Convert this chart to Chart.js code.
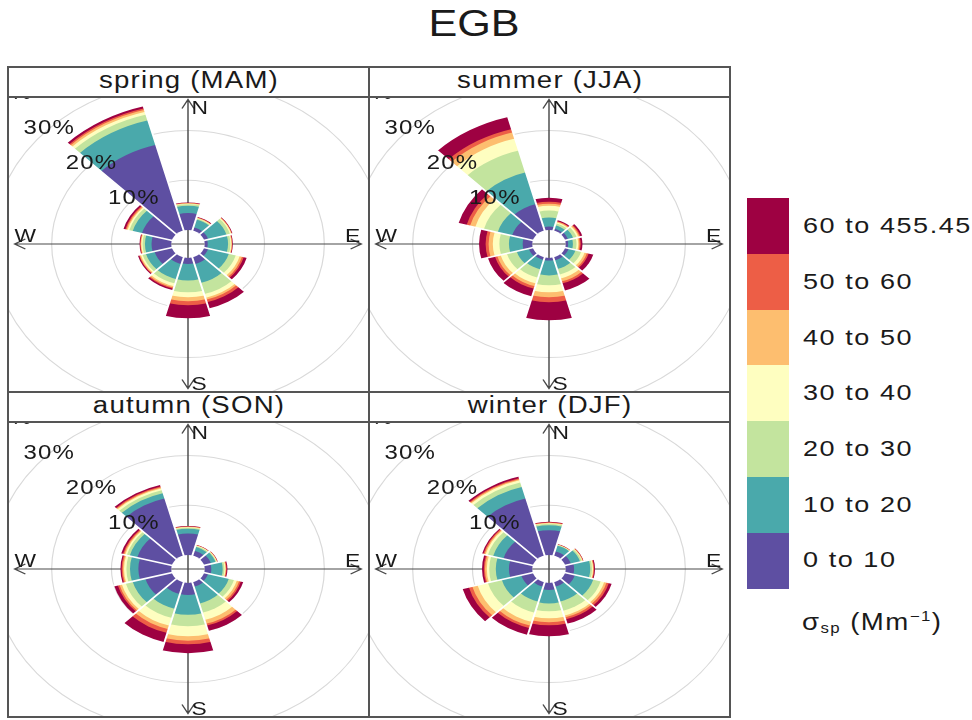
<!DOCTYPE html>
<html>
<head>
<meta charset="utf-8">
<title>EGB wind roses</title>
<script src="https://cdn.jsdelivr.net/npm/chart.js@4.4.1/dist/chart.umd.min.js"></script>
<style>
  html, body { margin: 0; padding: 0; background: #fff; }
  body { position: relative; width: 972px; height: 720px; overflow: hidden;
         font-family: "Liberation Sans", Arial, Helvetica, sans-serif; color: #1a1a1a; }
  canvas { position: absolute; }
  .txt { position: absolute; white-space: nowrap; transform: scaleX(1.2); }
  .mid { width: 600px; text-align: center; transform-origin: 50% 50%; }
  .lft { transform-origin: 0 50%; }
  .rule { position: absolute; background: #555; z-index: 3; }
  .swatch { position: absolute; left: 747px; width: 42px; }
</style>
</head>
<body>
<div class="txt mid" style="left:174px; top:5.5px; font-size:36px; line-height:36px;">EGB</div>
<script>
"use strict";

const directions = [0, 30, 60, 90, 120, 150, 180, 210, 240, 270, 300, 330];
const bandLabels = ['0 to 10', '10 to 20', '20 to 30', '30 to 40', '40 to 50', '50 to 60', '60 to 455.45'];
const bandColors = ['#5e4fa2', '#4aa9ab', '#c3e49e', '#fefec0', '#fdbe6f', '#ed5e46', '#9e0142'];
const ringValues = [10, 20, 30, 40, 50];
const seasonTitles = ['spring (MAM)', 'summer (JJA)', 'autumn (SON)', 'winter (DJF)'];

// frequency (%) per direction (rows, N clockwise) split by sigma_sp band (columns)
const springFreq = [
    [3.4, 1.5, 0.3, 0.1, 0.1, 0.05, 0.1],
    [0.7, 1.6, 0.2, 0.1, 0.1, 0.05, 0.1],
    [0.7, 3.2, 0.6, 0.2, 0.1, 0.05, 0.1],
    [0.5, 3.4, 0.4, 0.15, 0.1, 0.05, 0.1],
    [0.7, 3.6, 1.2, 0.7, 0.4, 0.3, 0.5],
    [1.4, 3.9, 2.3, 0.8, 0.4, 0.5, 1.3],
    [1.2, 3.3, 2.4, 1.0, 0.8, 0.8, 2.6],
    [1.4, 3.1, 0.9, 0.6, 0.3, 0.2, 0.3],
    [3.0, 1.5, 0.6, 0.3, 0.2, 0.1, 0.2],
    [3.3, 1.1, 0.4, 0.2, 0.1, 0.1, 0.1],
    [5.2, 1.6, 0.6, 0.3, 0.2, 0.2, 0.3],
    [17.8, 5.1, 1.2, 0.6, 0.4, 0.3, 0.4]
];
const summerFreq = [
    [0.7, 1.8, 1.4, 1.0, 0.4, 0.4, 0.8],
    [0.4, 0.7, 0.4, 0.2, 0.2, 0.1, 0.2],
    [0.5, 0.9, 0.6, 0.3, 0.2, 0.2, 0.3],
    [0.4, 0.8, 0.6, 0.3, 0.2, 0.2, 0.3],
    [0.6, 1.2, 1.0, 0.6, 0.4, 0.3, 0.8],
    [0.6, 1.8, 1.2, 0.8, 0.6, 0.4, 1.5],
    [0.5, 3.0, 2.0, 1.4, 1.0, 1.0, 3.6],
    [0.5, 2.0, 1.7, 1.2, 0.6, 0.5, 1.6],
    [0.7, 2.1, 1.7, 1.1, 0.6, 0.4, 1.2],
    [1.6, 2.3, 1.6, 1.1, 0.7, 0.5, 1.1],
    [3.6, 2.5, 2.4, 1.5, 0.9, 0.6, 1.4],
    [5.5, 6.6, 4.5, 2.5, 1.3, 0.7, 2.5]
];
const autumnFreq = [
    [4.3, 1.0, 0.2, 0.1, 0.1, 0.05, 0.1],
    [1.0, 0.8, 0.2, 0.1, 0.05, 0.05, 0.05],
    [1.2, 0.8, 0.15, 0.1, 0.05, 0.05, 0.05],
    [1.1, 1.9, 0.3, 0.15, 0.1, 0.1, 0.15],
    [0.7, 3.6, 0.9, 0.5, 0.4, 0.3, 0.4],
    [0.9, 3.5, 1.9, 1.5, 0.8, 0.4, 1.1],
    [2.4, 4.0, 2.3, 2.0, 0.9, 0.7, 1.8],
    [2.4, 3.1, 1.9, 1.6, 0.7, 0.8, 1.9],
    [4.6, 2.2, 1.2, 0.7, 0.4, 0.3, 0.6],
    [5.5, 1.4, 0.6, 0.4, 0.2, 0.2, 0.2],
    [6.0, 1.3, 0.5, 0.3, 0.2, 0.2, 0.3],
    [11.9, 1.1, 0.6, 0.4, 0.2, 0.2, 0.3]
];
const winterFreq = [
    [5.0, 1.0, 0.3, 0.1, 0.1, 0.1, 0.1],
    [0.9, 1.2, 0.1, 0.05, 0.05, 0.05, 0.05],
    [1.0, 1.6, 0.3, 0.1, 0.1, 0.05, 0.05],
    [1.4, 2.7, 0.3, 0.15, 0.1, 0.1, 0.15],
    [1.7, 3.2, 1.3, 0.6, 0.4, 0.4, 0.5],
    [0.9, 3.1, 1.9, 1.0, 0.4, 0.4, 0.9],
    [1.4, 2.7, 1.6, 1.4, 0.8, 0.6, 2.2],
    [0.9, 3.1, 2.3, 1.9, 0.8, 0.5, 1.4],
    [2.0, 3.4, 2.4, 1.8, 0.9, 0.6, 1.1],
    [3.9, 2.2, 1.1, 0.4, 0.3, 0.2, 0.3],
    [5.1, 1.8, 0.9, 0.4, 0.2, 0.2, 0.2],
    [11.9, 2.4, 0.9, 0.5, 0.2, 0.2, 0.3]
];
const seasonFreqs = [springFreq, summerFreq, autumnFreq, winterFreq];

// layout (the whole figure is drawn 1.2x wider than tall)
const STRETCH = 1.2;
const HOLE = 2.8;          // empty centre, in % units
const SCALE_MAX = 26.7;
const AXIS_REACH = 26.2;
const AXIS_COLOR = '#4a4a4a';
const FONT = '"Liberation Sans", Arial, sans-serif';
const panelOrigins = [[8, 67], [369, 67], [8, 392], [369, 392]];
const PANEL_W = 361, STRIP_H = 30, PLOT_H = 295;

const roseDecor = {
    id: 'roseDecor',
    beforeDraw(chart) {
        const r = chart.scales.r, ctx = chart.ctx;
        ctx.save();
        ctx.translate(r.xCenter, 0);
        ctx.scale(STRETCH, 1);
        ctx.translate(-r.xCenter, 0);
    },
    beforeDatasetsDraw(chart) {
        const r = chart.scales.r, ctx = chart.ctx;
        const cx = r.xCenter, cy = r.yCenter;
        const L = r.getDistanceFromCenterForValue(AXIS_REACH);
        const a = 9, w = 5;
        ctx.save();
        ctx.strokeStyle = AXIS_COLOR;
        ctx.lineWidth = 1.2;
        ctx.beginPath();
        ctx.moveTo(cx, cy - L); ctx.lineTo(cx, cy + L);
        ctx.moveTo(cx - L, cy); ctx.lineTo(cx + L, cy);
        ctx.moveTo(cx - w, cy - L + a); ctx.lineTo(cx, cy - L); ctx.lineTo(cx + w, cy - L + a);
        ctx.moveTo(cx - w, cy + L - a); ctx.lineTo(cx, cy + L); ctx.lineTo(cx + w, cy + L - a);
        ctx.moveTo(cx - L + a, cy - w); ctx.lineTo(cx - L, cy); ctx.lineTo(cx - L + a, cy + w);
        ctx.moveTo(cx + L - a, cy - w); ctx.lineTo(cx + L, cy); ctx.lineTo(cx + L - a, cy + w);
        ctx.stroke();
        ctx.restore();
    },
    afterDatasetsDraw(chart) {
        const r = chart.scales.r, ctx = chart.ctx;
        const cx = r.xCenter, cy = r.yCenter;
        const totals = chart.data.datasets[chart.data.datasets.length - 1].data;
        ctx.save();
        // white gaps between the direction wedges
        ctx.strokeStyle = '#fff';
        ctx.lineWidth = 1.6;
        ctx.beginPath();
        directions.forEach((deg, i) => {
            const edge = (deg + 15) * Math.PI / 180;
            const reach = r.getDistanceFromCenterForValue(Math.max(totals[i], totals[(i + 1) % directions.length])) + 0.5;
            ctx.moveTo(cx, cy);
            ctx.lineTo(cx + reach * Math.sin(edge), cy - reach * Math.cos(edge));
        });
        ctx.stroke();
        // empty centre, crossed by the axes
        const hole = r.getDistanceFromCenterForValue(0);
        ctx.fillStyle = '#fff';
        ctx.beginPath();
        ctx.arc(cx, cy, hole, 0, 2 * Math.PI);
        ctx.fill();
        ctx.strokeStyle = AXIS_COLOR;
        ctx.lineWidth = 1.2;
        ctx.beginPath();
        ctx.moveTo(cx, cy - hole); ctx.lineTo(cx, cy + hole);
        ctx.moveTo(cx - hole, cy); ctx.lineTo(cx + hole, cy);
        ctx.stroke();
        ctx.restore();
    },
    afterDraw(chart) {
        const r = chart.scales.r, ctx = chart.ctx;
        const cx = r.xCenter, cy = r.yCenter;
        const L = r.getDistanceFromCenterForValue(AXIS_REACH);
        ctx.save();
        ctx.fillStyle = '#1a1a1a';
        ctx.font = '20px ' + FONT;
        if ('letterSpacing' in ctx) ctx.letterSpacing = '1px';
        ctx.textAlign = 'center';
        ctx.textBaseline = 'middle';
        ringValues.forEach(v => {
            const d = r.getDistanceFromCenterForValue(v) * Math.SQRT1_2;
            ctx.fillText(v + '%', cx - d, cy - d);
        });
        ctx.font = '19px ' + FONT;
        ctx.textBaseline = 'alphabetic';
        ctx.textAlign = 'left';
        ctx.fillText('N', cx + 3, cy - L + 15);
        ctx.fillText('S', cx + 3, cy + L + 1);
        ctx.fillText('W', cx - L, cy - 2);
        ctx.textAlign = 'right';
        ctx.fillText('E', cx + L, cy - 2);
        ctx.restore();
        ctx.restore();
    }
};

function stackedSets(freq) {
    return bandColors.map((color, b) => ({
        label: bandLabels[b],
        data: freq.map(row => row.slice(0, b + 1).reduce((s, v) => s + v, 0)),
        backgroundColor: color,
        borderWidth: 0
    }));
}

function buildRose(canvas, freq) {
    return new Chart(canvas, {
        type: 'polarArea',
        data: { labels: directions.map(d => d + '°'), datasets: stackedSets(freq) },
        options: {
            responsive: false,
            animation: false,
            events: [],
            layout: { padding: 0 },
            plugins: { legend: { display: false }, tooltip: { enabled: false } },
            scales: {
                r: {
                    min: -HOLE,
                    max: SCALE_MAX,
                    startAngle: -15,
                    ticks: { display: false },
                    grid: { color: '#d9d9d9', lineWidth: 1 },
                    angleLines: { display: false },
                    pointLabels: { display: false },
                    afterBuildTicks: (s) => { s.ticks = [-HOLE].concat(ringValues).map(v => ({ value: v })); }
                }
            }
        },
        plugins: [roseDecor]
    });
}

function addDiv(cls, style, text) {
    const d = document.createElement('div');
    d.className = cls;
    d.style.cssText = style;
    if (text !== undefined) d.textContent = text;
    document.body.appendChild(d);
    return d;
}

function rule(x, y, w, h) {
    addDiv('rule', `left:${x}px; top:${y}px; width:${w}px; height:${h}px;`);
}

panelOrigins.forEach(([x, y], i) => {
    const canvas = document.createElement('canvas');
    canvas.width = PANEL_W;
    canvas.height = PLOT_H;
    canvas.style.left = x + 'px';
    canvas.style.top = (y + STRIP_H) + 'px';
    document.body.appendChild(canvas);
    buildRose(canvas, seasonFreqs[i]);
    const centre = x + PANEL_W / 2;
    addDiv('txt mid', `left:${centre - 300}px; top:${y + 1.8}px; font-size:23px; line-height:23px; letter-spacing:1px;`, seasonTitles[i]);
});

// panel frame
rule(7, 66, 724, 2);
rule(7, 716, 724, 2);
rule(7, 66, 2, 652);
rule(729, 66, 2, 652);
rule(368, 66, 2, 652);
rule(7, 96, 724, 2);
rule(7, 391, 724, 2);
rule(7, 421, 724, 2);

// colour key, top band first
const keyTop = 198.3, keyStep = 55.7;
bandColors.slice().reverse().forEach((color, i) => {
    const top = keyTop + i * keyStep;
    addDiv('swatch', `top:${top}px; height:${keyStep + 0.4}px; background:${color};`);
    addDiv('txt lft', `left:803px; top:${top + keyStep / 2 - 11}px; font-size:22.5px; line-height:22.5px; letter-spacing:1.3px;`,
        bandLabels[bandLabels.length - 1 - i]);
});
const unit = addDiv('txt lft', 'left:802px; top:605px; font-size:23px; line-height:23px; letter-spacing:1.2px;');
unit.innerHTML = 'σ<sub style="font-size:14px; vertical-align:-3px;">sp</sub> (Mm<sup style="font-size:14px; vertical-align:9px;">−1</sup>)';
</script>
</body>
</html>
